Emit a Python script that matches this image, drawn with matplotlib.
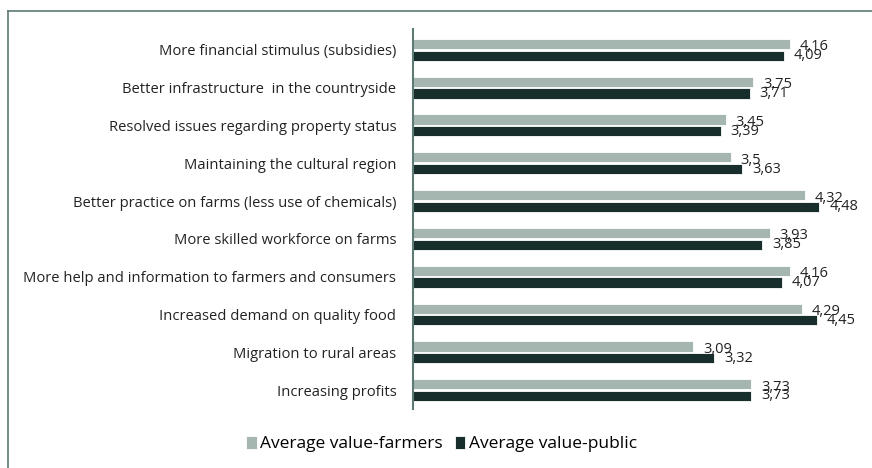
import matplotlib.pyplot as plt
from matplotlib.lines import Line2D
import numpy as np

# datos del gráfico (de arriba hacia abajo)
categorias = [
    "More financial stimulus (subsidies)",
    "Better infrastructure  in the countryside",
    "Resolved issues regarding property status",
    "Maintaining the cultural region",
    "Better practice on farms (less use of chemicals)",
    "More skilled workforce on farms",
    "More help and information to farmers and consumers",
    "Increased demand on quality food",
    "Migration to rural areas",
    "Increasing profits",
]
farmers = [4.16, 3.75, 3.45, 3.5, 4.32, 3.93, 4.16, 4.29, 3.09, 3.73]
public = [4.09, 3.71, 3.39, 3.63, 4.48, 3.85, 4.07, 4.45, 3.32, 3.73]
series_names = ["Average value-farmers", "Average value-public"]

c_farm = '#a5b6b1'
c_pub = '#172e2d'
c_axis = '#5e7a74'

plt.rcParams['font.family'] = ['Open Sans', 'DejaVu Sans']

fig = plt.figure(figsize=(8.72, 4.68), dpi=100)
ax = fig.add_axes([413 / 872, 1 - 409 / 468, 440 / 872, 380 / 468])

y = np.arange(len(categorias))
h = 0.27
ax.barh(y - h / 2 - 0.02, farmers, height=h, color=c_farm, edgecolor='white', linewidth=0.6, label=series_names[0])
ax.barh(y + h / 2 + 0.02, public, height=h, color=c_pub, edgecolor='white', linewidth=0.6, label=series_names[1])

# etiquetas con coma decimal
for i in range(len(categorias)):
    ax.annotate(f"{farmers[i]:g}".replace('.', ','), (farmers[i], y[i] - h / 2),
                xytext=(7, -1.5), textcoords='offset points', ha='left', va='center',
                fontsize=10.5, color='#222222')
    ax.annotate(f"{public[i]:g}".replace('.', ','), (public[i], y[i] + h / 2),
                xytext=(7, -0.5), textcoords='offset points', ha='left', va='center',
                fontsize=10.5, color='#222222')

ax.set_xlim(0, 4.85)
ax.set_ylim(len(categorias) - 0.5, -0.55)
ax.set_yticks(y)
ax.set_yticklabels(categorias, fontsize=10.6, color='#222222')
ax.tick_params(axis='y', length=0, pad=12)
ax.set_xticks([])
for s in ['top', 'right', 'bottom']:
    ax.spines[s].set_visible(False)
ax.spines['left'].set_color(c_axis)
ax.spines['left'].set_linewidth(1.5)

# leyenda
ax.legend(loc='lower center', bbox_to_anchor=(0.065, -0.155), ncol=2, frameon=False,
          fontsize=12.5, handlelength=0.6, handleheight=0.8, handletextpad=0.2,
          columnspacing=0.7)

# borde superior e izquierdo de la figura
fig.add_artist(Line2D([8 / 872, 1], [1 - 11 / 468, 1 - 11 / 468], color=c_axis, linewidth=1.2))
fig.add_artist(Line2D([8 / 872, 8 / 872], [0, 1 - 11 / 468], color=c_axis, linewidth=1.2))

fig.savefig('out.png', dpi=100)
